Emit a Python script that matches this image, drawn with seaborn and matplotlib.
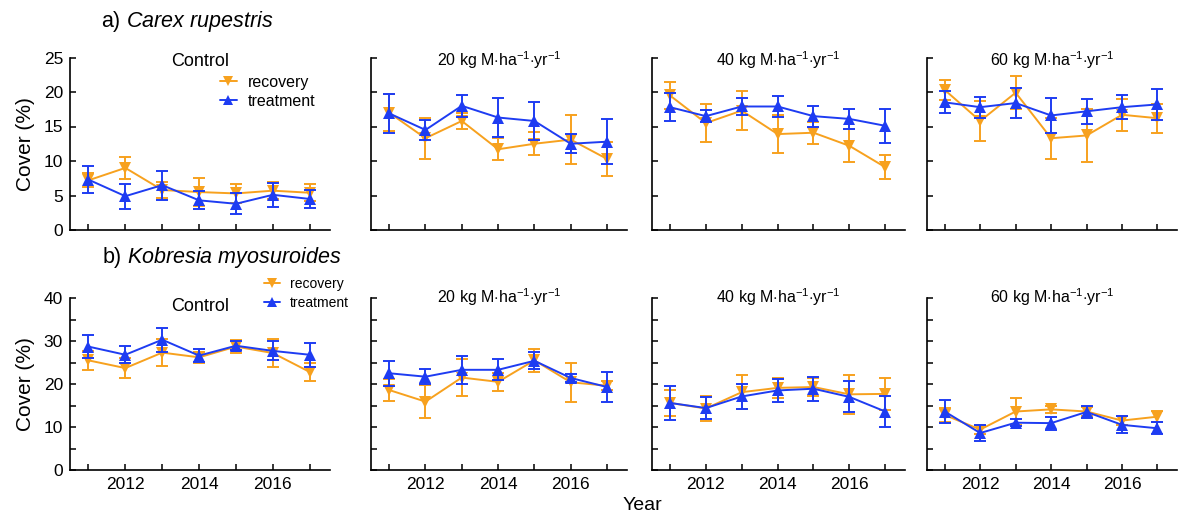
import numpy as np
import pandas as pd
import matplotlib
matplotlib.use("Agg")
import matplotlib.pyplot as plt
from matplotlib.lines import Line2D
from matplotlib.ticker import FixedLocator, MultipleLocator, FuncFormatter
import seaborn as sns

# ---------------- data ----------------
years = [2011, 2012, 2013, 2014, 2015, 2016, 2017]
doses = ["Control",
         r"20 kg M$\cdot$ha$^{-1}$$\cdot$yr$^{-1}$",
         r"40 kg M$\cdot$ha$^{-1}$$\cdot$yr$^{-1}$",
         r"60 kg M$\cdot$ha$^{-1}$$\cdot$yr$^{-1}$"]

# a) Carex rupestris  (one row per dose)
carex_rec_mean = [[7.2, 9.0, 5.8, 5.5, 5.3, 5.7, 5.4],
                  [17.0, 13.3, 15.8, 11.7, 12.5, 13.1, 10.3],
                  [19.5, 15.5, 17.3, 13.9, 14.1, 12.2, 9.1],
                  [20.3, 15.8, 19.9, 13.3, 13.7, 16.7, 16.2]]
carex_rec_err = [[1.0, 1.6, 1.1, 2.0, 1.4, 1.2, 1.2],
                 [2.7, 3.0, 1.2, 1.6, 1.7, 3.5, 2.5],
                 [2.0, 2.8, 2.8, 2.7, 1.6, 2.4, 1.7],
                 [1.4, 2.9, 2.4, 3.0, 3.8, 2.3, 2.1]]
carex_trt_mean = [[7.3, 4.9, 6.5, 4.3, 3.8, 5.1, 4.5],
                  [16.9, 14.5, 18.0, 16.3, 15.8, 12.5, 12.8],
                  [17.8, 16.5, 17.9, 17.9, 16.5, 16.1, 15.1],
                  [18.5, 17.8, 18.4, 16.6, 17.2, 17.8, 18.2]]
carex_trt_err = [[2.0, 1.8, 2.1, 1.3, 1.5, 1.7, 1.3],
                 [2.8, 1.4, 1.6, 2.8, 2.7, 1.4, 3.3],
                 [2.0, 0.9, 1.3, 1.5, 1.5, 1.4, 2.5],
                 [1.6, 1.5, 2.2, 2.6, 1.8, 1.7, 2.2]]

# b) Kobresia myosuroides
kob_rec_mean = [[25.5, 23.7, 27.3, 26.2, 28.7, 27.2, 22.8],
                [18.6, 15.9, 21.5, 20.5, 25.5, 20.4, 19.6],
                [15.6, 14.3, 18.1, 19.1, 19.3, 17.6, 17.7],
                [12.8, 9.4, 13.6, 14.1, 13.6, 11.5, 12.4]]
kob_rec_err = [[2.2, 2.3, 3.2, 1.3, 1.6, 3.3, 2.0],
               [2.5, 3.9, 4.4, 2.1, 2.6, 4.6, 1.0],
               [3.0, 2.8, 3.9, 2.4, 2.2, 4.5, 3.8],
               [1.6, 1.0, 3.2, 0.8, 1.1, 1.0, 1.3]]
kob_trt_mean = [[28.7, 26.8, 30.3, 26.6, 28.9, 27.7, 26.8],
                [22.5, 21.7, 23.3, 23.3, 25.4, 21.4, 19.3],
                [15.6, 14.4, 17.1, 18.5, 18.9, 17.0, 13.6],
                [13.6, 8.6, 11.0, 10.9, 13.5, 10.5, 9.7]]
kob_trt_err = [[2.7, 2.0, 2.8, 1.5, 1.0, 2.2, 2.8],
               [2.9, 1.8, 3.2, 2.4, 2.0, 1.0, 3.4],
               [4.0, 2.5, 3.0, 2.7, 2.8, 3.6, 3.5],
               [2.7, 1.8, 0.8, 1.5, 1.3, 2.0, 1.4]]

row_titles = [r"a) $\mathit{Carex\ rupestris}$", r"b) $\mathit{Kobresia\ myosuroides}$"]
ylims = [25, 40]

# ---------------- style ----------------
sns.set_theme(style="ticks")
plt.rcParams["font.family"] = ["Liberation Sans", "DejaVu Sans"]
plt.rcParams["mathtext.fontset"] = "custom"
plt.rcParams["mathtext.rm"] = "Liberation Sans"
plt.rcParams["mathtext.it"] = "Liberation Sans:italic"
plt.rcParams["mathtext.bf"] = "Liberation Sans:bold"
for k in ["text.color", "axes.labelcolor", "xtick.color", "ytick.color",
          "axes.edgecolor"]:
    plt.rcParams[k] = "black"

C_REC = "#F7A11E"
C_TRT = "#1E3CF2"
palette = {"recovery": C_REC, "treatment": C_TRT}
markers = {"recovery": "v", "treatment": "^"}

fig = plt.figure(figsize=(11.78, 5.15), dpi=100)
W, H = 1178.0, 515.0
xs = [(70, 330), (371, 627), (652, 905), (927, 1177)]
ys = [(57.5, 230), (298, 470)]

data_sets = [(carex_rec_mean, carex_rec_err, carex_trt_mean, carex_trt_err),
             (kob_rec_mean, kob_rec_err, kob_trt_mean, kob_trt_err)]

for r in range(2):
    rm, re_, tm, te = data_sets[r]
    for c in range(4):
        x0, x1 = xs[c]
        yt, yb = ys[r]
        ax = fig.add_axes([x0 / W, 1 - yb / H, (x1 - x0) / W, (yb - yt) / H])
        df = pd.DataFrame({
            "year": years * 2,
            "cover": rm[c] + tm[c],
            "err": re_[c] + te[c],
            "group": ["recovery"] * 7 + ["treatment"] * 7,
        })
        for g in ["recovery", "treatment"]:
            sub = df[df.group == g]
            ax.errorbar(sub.year, sub.cover, yerr=sub.err, fmt="none",
                        ecolor=palette[g], elinewidth=1.4, capsize=4.5,
                        capthick=1.4, zorder=2 if g == "recovery" else 4)
        sns.lineplot(data=df, x="year", y="cover", hue="group", style="group",
                     palette=palette, markers=markers, dashes=False,
                     hue_order=["recovery", "treatment"],
                     markersize=8.5, markeredgewidth=0, linewidth=1.4,
                     legend=False, ax=ax, zorder=3)
        ax.set_xlim(2010.5, 2017.55)
        ax.set_ylim(0, ylims[r])
        ax.xaxis.set_major_locator(FixedLocator(years))
        ax.yaxis.set_major_locator(MultipleLocator(5))
        if r == 1:
            ax.set_xticklabels([str(y) if y % 2 == 0 else "" for y in years])
        else:
            ax.set_xticklabels([])
        if c == 0:
            if r == 0:
                ax.yaxis.set_major_formatter(FuncFormatter(lambda v, p: f"{v:.0f}"))
            else:
                ax.yaxis.set_major_formatter(
                    FuncFormatter(lambda v, p: f"{v:.0f}" if v % 10 == 0 else ""))
            ax.set_ylabel("Cover (%)", fontsize=15, labelpad=6)
        else:
            ax.set_yticklabels([])
            ax.set_ylabel("")
        ax.set_xlabel("")
        ax.tick_params(direction="in", length=4.5, width=1.1, labelsize=12.5,
                       color="black", labelcolor="black", pad=5)
        for s in ["top", "right"]:
            ax.spines[s].set_visible(False)
        for s in ["left", "bottom"]:
            ax.spines[s].set_linewidth(1.2)
            ax.spines[s].set_color("black")
        # panel titles
        if c == 0:
            ty = 0.974 if r == 0 else 0.95
            ax.text(0.5, ty, doses[c], transform=ax.transAxes, ha="center",
                    va="center", fontsize=13)
        else:
            ty = 0.985 if r == 0 else 1.006
            ax.text(0.5, ty, doses[c], transform=ax.transAxes, ha="center",
                    va="center", fontsize=11.5)
        # legend
        if c == 0:
            handles = [Line2D([], [], color=C_REC, marker="v", markersize=7.5,
                              markeredgewidth=0, lw=1.4),
                       Line2D([], [], color=C_TRT, marker="^", markersize=7.5,
                              markeredgewidth=0, lw=1.4)]
            if r == 0:
                ax.legend(handles, ["recovery", "treatment"], frameon=False,
                          loc="upper left", bbox_to_anchor=(0.575, 0.9),
                          fontsize=11.5, handlelength=1.1, handletextpad=0.7,
                          labelspacing=0.25, borderpad=0, borderaxespad=0)
            else:
                ax.legend(handles, ["recovery", "treatment"], frameon=False,
                          loc="upper left", bbox_to_anchor=(0.745, 1.12),
                          fontsize=10, handlelength=1.2, handletextpad=0.7,
                          labelspacing=0.35, borderpad=0, borderaxespad=0)

fig.text(187 / W, 1 - 22 / H, row_titles[0], ha="center", va="center", fontsize=15.5)
fig.text(222 / W, 1 - 258 / H, row_titles[1], ha="center", va="center", fontsize=15.5)
fig.text(642 / W, 1 - 505 / H, "Year", ha="center", va="center", fontsize=14)

fig.savefig("out.png", dpi=100)
